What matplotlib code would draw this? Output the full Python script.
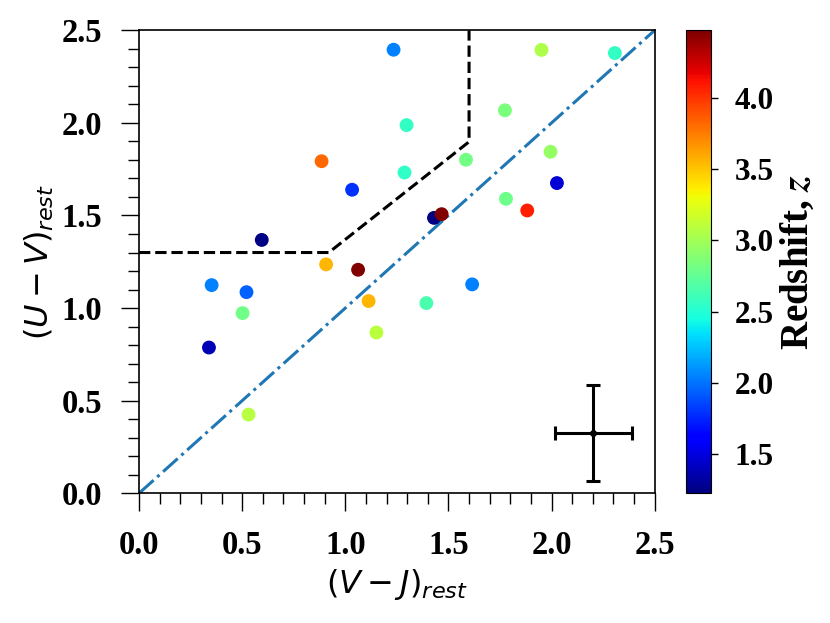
import numpy as np
import matplotlib
matplotlib.use("Agg")
import matplotlib.pyplot as plt

# colores (V-J), (U-V) y redshift de cada galaxia
vj = [1.234, 1.951, 2.307, 1.774, 1.297, 0.885, 1.585, 1.995, 1.287, 1.033,
      2.026, 1.779, 1.882, 1.430, 1.467, 0.595, 0.907, 1.062, 0.352, 0.521,
      1.615, 1.113, 1.393, 0.502, 1.151, 0.339, 0.531]
uv = [2.395, 2.394, 2.377, 2.068, 1.988, 1.793, 1.801, 1.844, 1.732, 1.639,
      1.675, 1.590, 1.527, 1.487, 1.507, 1.368, 1.236, 1.207, 1.124, 1.086,
      1.128, 1.038, 1.027, 0.973, 0.868, 0.787, 0.425]
zz = [2.04, 3.05, 2.57, 2.85, 2.56, 3.82, 2.82, 2.95, 2.55, 1.79,
      1.47, 2.79, 4.07, 1.23, 4.47, 1.25, 3.56, 4.47, 2.04, 1.94,
      2.04, 3.56, 2.65, 2.80, 3.10, 1.38, 3.09]
z_min, z_max = 1.227, 4.474

# frontera de galaxias quiescentes (UVJ)
caja_x = [0.0, 0.92, 1.6, 1.6]
caja_y = [1.3, 1.3, 1.898, 2.5]

# error tipico
err_x, err_y = 2.203, 0.326
err_dx, err_dy = 0.187, 0.26

tick_font = {'family': 'Liberation Serif', 'weight': 'bold', 'size': 23.5}

fig = plt.figure(figsize=(8.3, 6.23), dpi=100)
ax = fig.add_axes([0.1675, 0.2082, 0.6213, 0.7432])
cax = fig.add_axes([0.8265, 0.2082, 0.0298, 0.7432])

sc = ax.scatter(vj, uv, c=zz, cmap='jet', vmin=z_min, vmax=z_max, s=80, zorder=3)
ax.plot(caja_x, caja_y, 'k--', lw=2.2)
ax.plot([0, 2.5], [0, 2.5], '-.', color='#1f77b4', lw=2.2)
ax.errorbar(err_x, err_y, xerr=err_dx, yerr=err_dy, fmt='o', color='k',
            ms=4, elinewidth=2.2, capsize=5, capthick=2.2)

ax.set_xlim(0, 2.5)
ax.set_ylim(0, 2.5)
ax.set_xticks(np.arange(0, 2.51, 0.5))
ax.set_yticks(np.arange(0, 2.51, 0.5))
ax.set_xticks(np.arange(0, 2.51, 0.1), minor=True)
ax.set_yticks(np.arange(0, 2.51, 0.1), minor=True)
ax.tick_params(which='major', length=13, width=1, pad=13.5)
ax.tick_params(which='minor', length=8, width=1)
for lab in ax.get_xticklabels() + ax.get_yticklabels():
    lab.set(**tick_font)
for s in ax.spines.values():
    s.set_linewidth(1.2)

ax.set_xlabel(r'$(V-J)_{rest}$', fontsize=23)
ax.set_ylabel(r'$(U-V)_{rest}$', fontsize=23)

cb = fig.colorbar(sc, cax=cax)
cb.set_ticks([1.5, 2.0, 2.5, 3.0, 3.5, 4.0])
cb.ax.tick_params(length=5, width=1, pad=12)
for lab in cb.ax.get_yticklabels():
    lab.set(family='Liberation Serif', weight='bold', size=22.5)
cb.set_label(r'Redshift, $\mathbfit{z}$', family='Liberation Serif',
             weight='bold', size=28, math_fontfamily='stix')

fig.savefig('out.png', dpi=100)
